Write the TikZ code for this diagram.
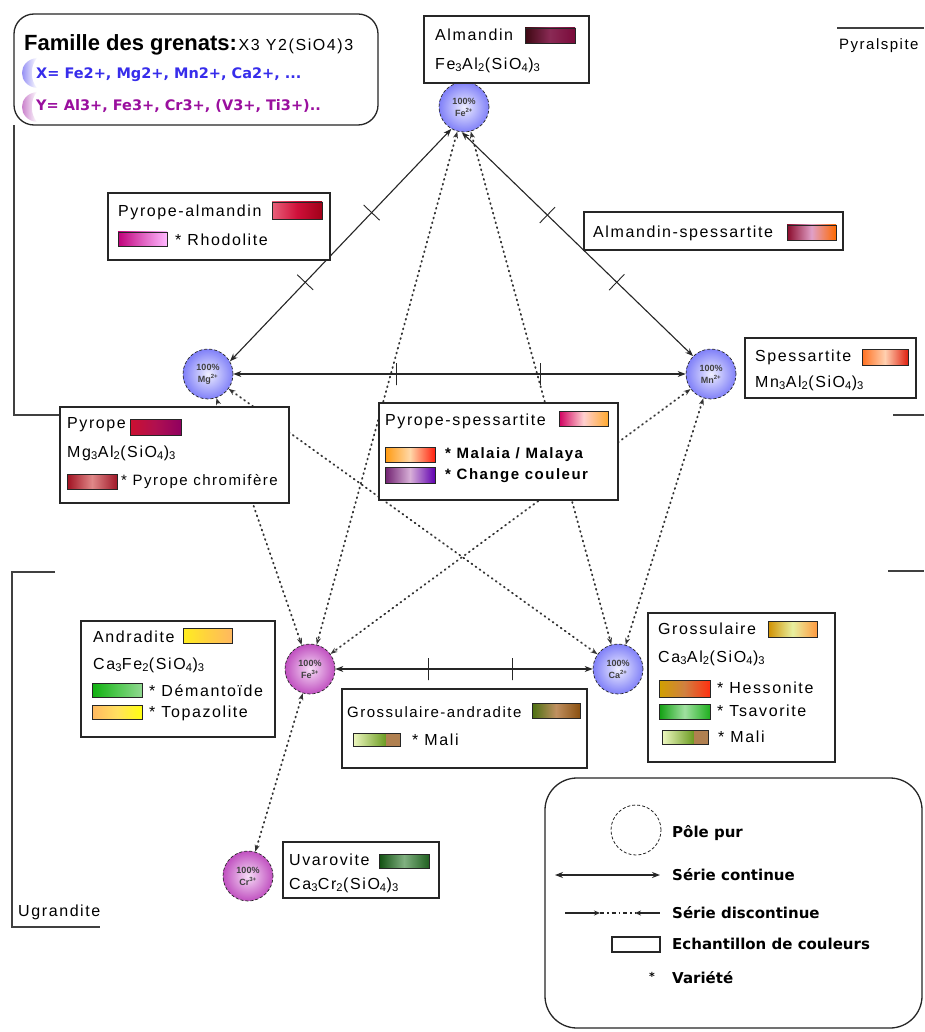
\documentclass[tikz,border=0pt]{standalone}
\usepackage{fontspec}
\setmainfont{Liberation Sans}
\newfontfamily\bxf[LetterSpace=10]{Liberation Sans}
\newfontfamily\vdf{DejaVu Sans}
\usetikzlibrary{arrows.meta}
\definecolor{xblue}{HTML}{372DEB}
\definecolor{ypurp}{HTML}{9A0F9E}
\definecolor{bluei}{HTML}{EEEEFF}
\definecolor{blueo}{HTML}{8080F8}
\definecolor{purpi}{HTML}{F6DCF6}
\definecolor{purpo}{HTML}{C050C0}
\definecolor{almL}{HTML}{3D0812}\definecolor{almM}{HTML}{8A2A55}\definecolor{almR}{HTML}{7A0A3A}
\definecolor{paL}{HTML}{E8607A}\definecolor{paM}{HTML}{D0103A}\definecolor{paR}{HTML}{A00018}
\definecolor{rhL}{HTML}{C0007A}\definecolor{rhM}{HTML}{E060C0}\definecolor{rhR}{HTML}{FFB8FF}
\definecolor{asL}{HTML}{8A0A2A}\definecolor{asM}{HTML}{E0A0C8}\definecolor{asR}{HTML}{FF6A00}
\definecolor{spL}{HTML}{FF7020}\definecolor{spM}{HTML}{FFD0B0}\definecolor{spR}{HTML}{E02010}
\definecolor{pyL}{HTML}{CC1030}\definecolor{pyM}{HTML}{B01050}\definecolor{pyR}{HTML}{900060}
\definecolor{pcL}{HTML}{A01020}\definecolor{pcM}{HTML}{E08888}\definecolor{pcR}{HTML}{A01828}
\definecolor{psL}{HTML}{D00060}\definecolor{psM}{HTML}{FFD0D0}\definecolor{psR}{HTML}{FFAA30}
\definecolor{maL}{HTML}{FF9A10}\definecolor{maM}{HTML}{FFD8A8}\definecolor{maR}{HTML}{FF2010}
\definecolor{ccL}{HTML}{702070}\definecolor{ccM}{HTML}{D8B0D8}\definecolor{ccR}{HTML}{6000B0}
\definecolor{anL}{HTML}{FFEE20}\definecolor{anM}{HTML}{FFD040}\definecolor{anR}{HTML}{FFB860}
\definecolor{deL}{HTML}{10B010}\definecolor{deM}{HTML}{50C850}\definecolor{deR}{HTML}{90D890}
\definecolor{toL}{HTML}{FFB860}\definecolor{toM}{HTML}{FFE060}\definecolor{toR}{HTML}{FFFF10}
\definecolor{gaL}{HTML}{4A7010}\definecolor{gaM}{HTML}{C09060}\definecolor{gaR}{HTML}{8A5010}
\definecolor{mlL}{HTML}{EEF8C0}\definecolor{mlR}{HTML}{6A9A20}\definecolor{mlB}{HTML}{B08050}
\definecolor{grL}{HTML}{D09000}\definecolor{grM}{HTML}{E8F0A0}\definecolor{grR}{HTML}{FF9A40}
\definecolor{heL}{HTML}{D0A000}\definecolor{heM}{HTML}{D08040}\definecolor{heR}{HTML}{FF3010}
\definecolor{tsL}{HTML}{10A010}\definecolor{tsM}{HTML}{A0E0A0}\definecolor{tsR}{HTML}{20B020}
\definecolor{uvL}{HTML}{105010}\definecolor{uvM}{HTML}{80B080}\definecolor{uvR}{HTML}{206020}
\newcommand\gsw[5]{\shade[left color=#3,right color=#5,middle color=#4] #1 rectangle #2; \draw[sw] #1 rectangle #2;}
% \malisw{x1}{y1}{xm}{x2}{y2}
\newcommand\malisw[5]{\shade[left color=mlL,right color=mlR] (#1,#2) rectangle (#3,#5); \fill[mlB] (#3,#2) rectangle (#4,#5); \draw[sw] (#1,#2) rectangle (#4,#5);}
\begin{document}
\begin{tikzpicture}[x=1pt,y=-1pt,
  pole/.style={circle, draw=black!85, densely dashed, line width=0.7pt, minimum size=50pt, inner sep=0pt, align=center, font=\fontsize{9}{12}\selectfont\bfseries, text=black!75},
  bpole/.style={pole, inner color=bluei, outer color=blueo},
  ppole/.style={pole, inner color=purpi, outer color=purpo},
  cont/.style={{Stealth[length=8pt,width=6pt]}-{Stealth[length=8pt,width=6pt]}, line width=1.1pt, draw=black!85},
  disc/.style={{Stealth[length=7pt,width=5pt]}-{Stealth[length=7pt,width=5pt]}, line width=1.8pt, draw=black!80, line cap=round, dash pattern=on 1pt off 4pt},
  tickm/.style={sloped, draw=black!85, line width=0.9pt, inner sep=0pt, minimum width=0pt, minimum height=22pt},
  ibox/.style={draw=black!85, fill=white, line width=1.3pt},
  sw/.style={draw=black!85, line width=0.9pt},
  brk/.style={draw=black!75, line width=1.3pt},
  t16/.style={anchor=west, inner sep=0pt, font=\bxf\fontsize{16}{18}\selectfont},
  t15/.style={anchor=west, inner sep=0pt, font=\bxf\fontsize{15}{17}\selectfont},
  t15b/.style={anchor=west, inner sep=0pt, font=\bxf\bfseries\fontsize{15}{17}\selectfont},
  lg/.style={anchor=west, inner sep=0pt, font=\vdf\bfseries\fontsize{15}{17}\selectfont}
]
\useasboundingbox (0,0) rectangle (924,1032);
\fill[white] (0,0) rectangle (924,1032);

% group brackets
\draw[brk] (14,125) -- (14,415) -- (70,415);
\draw[brk] (893,415) -- (924,415);
\draw[brk] (837,28) -- (924,28);
\node[t15, anchor=west] (pyral) at (839,46) {Pyralspite};
\draw[brk] (55,572) -- (12,572) -- (12,927) -- (100,927);
\draw[brk] (888,571) -- (924,571);
\node[t16] (ugr) at (18,912) {Ugrandite};

% pure poles
\node[bpole] (fe2) at (464,107) {100\%\\Fe\textsuperscript{2+}};
\node[bpole] (mg2) at (208,374) {100\%\\Mg\textsuperscript{2+}};
\node[bpole] (mn2) at (711,374) {100\%\\Mn\textsuperscript{2+}};
\node[bpole] (ca2) at (618,669) {100\%\\Ca\textsuperscript{2+}};
\node[ppole] (fe3) at (310,669) {100\%\\Fe\textsuperscript{3+}};
\node[ppole] (cr3) at (248,876) {100\%\\Cr\textsuperscript{3+}};

% discontinuous series
\draw[disc] (fe2) -- (fe3);
\draw[disc] (fe2) -- (ca2);
\draw[disc] (mg2) -- (ca2);
\draw[disc] (mg2) -- (fe3);
\draw[disc] (mn2) -- (fe3);
\draw[disc] (mn2) -- (ca2);
\draw[disc] (fe3) -- (cr3);

% continuous series
\draw[cont] (fe2.240) -- (mg2.30) node[tickm,pos=0.36] (tk1) {} node[tickm,pos=0.66] (tk2) {};
\draw[cont] (fe2.-95) -- (mn2.135) node[tickm,pos=0.37] (tk3) {} node[tickm,pos=0.67] (tk4) {};
\draw[cont] (mg2) -- (mn2) node[tickm,pos=0.36] (tk5) {} node[tickm,pos=0.68] (tk6) {};
\draw[cont] (fe3) -- (ca2) node[tickm,pos=0.36] (tk7) {} node[tickm,pos=0.69] (tk8) {};

% Famille box
\draw[draw=black!85, fill=white, line width=1.3pt, rounded corners=20pt] (14,14) rectangle (378,125);
\node[anchor=base west, inner sep=0pt] (fam) at (24,51) {{\bfseries\fontsize{22}{24}\selectfont Famille des grenats:}\,{\bxf\fontsize{16}{18}\selectfont X3 Y2(SiO4)3}};
\shade[left color=xblue!70, right color=white] (37,58) .. controls (17,60) and (17,86) .. (37,88) .. controls (30,80) and (30,66) .. (37,58);
\shade[left color=ypurp!70, right color=white] (37,92) .. controls (17,94) and (17,120) .. (37,122) .. controls (30,114) and (30,100) .. (37,92);
\node[anchor=base west, inner sep=0pt, text=xblue, font=\vdf\bfseries\fontsize{14.5}{16}\selectfont] (xline) at (36,79) {X= Fe2+, Mg2+, Mn2+, Ca2+, ...};
\node[anchor=base west, inner sep=0pt, text=ypurp, font=\vdf\bfseries\fontsize{14.5}{16}\selectfont] (yline) at (36,111) {Y= Al3+, Fe3+, Cr3+, (V3+, Ti3+)..};

% Almandin
\draw[ibox] (424,16) rectangle (589,83);
\node[t16] (almT) at (435,35) {Almandin};
\gsw{(525,28)}{(575,43)}{almL}{almM}{almR}
\node[t16] (almF) at (435,65) {Fe\textsubscript{3}Al\textsubscript{2}(SiO\textsubscript{4})\textsubscript{3}};

% Pyrope-almandin
\draw[ibox] (108,193) rectangle (330,260);
\node[t16] (paT) at (118,212) {Pyrope-almandin};
\gsw{(272,202)}{(322,219)}{paL}{paM}{paR}
\gsw{(118,232)}{(167,246)}{rhL}{rhM}{rhR}
\node[t16] (paV) at (175,240) {* Rhodolite};

% Almandin-spessartite
\draw[ibox] (584,212) rectangle (843,250);
\node[t16] (asT) at (593,233) {Almandin-spessartite};
\gsw{(787,225)}{(836,240)}{asL}{asM}{asR}

% Spessartite
\draw[ibox] (745,338) rectangle (916,398);
\node[t16] (spT) at (755,357) {Spessartite};
\gsw{(862,349)}{(908,365)}{spL}{spM}{spR}
\node[t16] (spF) at (755,383) {Mn\textsubscript{3}Al\textsubscript{2}(SiO\textsubscript{4})\textsubscript{3}};

% Pyrope
\draw[ibox] (60,407) rectangle (289,503);
\node[t16] (pyT) at (67,425) {Pyrope};
\gsw{(130,419)}{(181,435)}{pyL}{pyM}{pyR}
\node[t16] (pyF) at (67,453) {Mg\textsubscript{3}Al\textsubscript{2}(SiO\textsubscript{4})\textsubscript{3}};
\gsw{(67,474)}{(117,489)}{pcL}{pcM}{pcR}
\node[t15] (pyV) at (121,482) {* Pyrope chromifère};

% Pyrope-spessartite
\draw[ibox] (379,403) rectangle (618,500);
\node[t16] (psT) at (385,421) {Pyrope-spessartite};
\gsw{(559,411)}{(608,426)}{psL}{psM}{psR}
\gsw{(385,447)}{(435,462)}{maL}{maM}{maR}
\node[t15b] (psV1) at (445,455) {* Malaia / Malaya};
\gsw{(385,467)}{(435,483)}{ccL}{ccM}{ccR}
\node[t15b] (psV2) at (445,476) {* Change couleur};

% Andradite
\draw[ibox] (81,621) rectangle (275,737);
\node[t16] (anT) at (93,637) {Andradite};
\gsw{(183,628)}{(232,643)}{anL}{anM}{anR}
\node[t16] (anF) at (93,665) {Ca\textsubscript{3}Fe\textsubscript{2}(SiO\textsubscript{4})\textsubscript{3}};
\gsw{(92,683)}{(142,697)}{deL}{deM}{deR}
\node[t16] (anV1) at (149,691) {* Démantoïde};
\gsw{(92,705)}{(142,719)}{toL}{toM}{toR}
\node[t16] (anV2) at (149,713) {* Topazolite};

% Grossulaire-andradite
\draw[ibox] (342,689) rectangle (587,768);
\node[t15] (gaT) at (347,712) {Grossulaire-andradite};
\gsw{(532,703)}{(580,718)}{gaL}{gaM}{gaR}
\malisw{353}{733}{386}{400}{746}
\node[t16] (gaV) at (412,740) {* Mali};

% Grossulaire
\draw[ibox] (648,613) rectangle (835,762);
\node[t16] (grT) at (658,629) {Grossulaire};
\gsw{(768,621)}{(817,637)}{grL}{grM}{grR}
\node[t16] (grF) at (658,658) {Ca\textsubscript{3}Al\textsubscript{2}(SiO\textsubscript{4})\textsubscript{3}};
\gsw{(659,680)}{(710,697)}{heL}{heM}{heR}
\node[t16] (grV1) at (717,688) {* Hessonite};
\gsw{(659,704)}{(710,719)}{tsL}{tsM}{tsR}
\node[t16] (grV2) at (717,711) {* Tsavorite};
\malisw{662}{730}{694}{708}{744}
\node[t16] (grV3) at (718,737) {* Mali};

% Uvarovite
\draw[ibox] (283,842) rectangle (439,898);
\node[t16] (uvT) at (289,860) {Uvarovite};
\gsw{(379,854)}{(429,868)}{uvL}{uvM}{uvR}
\node[t16] (uvF) at (289,885) {Ca\textsubscript{3}Cr\textsubscript{2}(SiO\textsubscript{4})\textsubscript{3}};

% Legend
\draw[draw=black!85, line width=1.3pt, rounded corners=32pt] (545,778) rectangle (922,1028);
\node[circle, draw=black!85, densely dashed, line width=0.8pt, minimum size=50pt, inner sep=0pt] (lgpole) at (636,830) {};
\node[lg] (lgt1) at (672,833) {Pôle pur};
\coordinate (lc1) at (555,875);
\coordinate (lc2) at (660,875);
\draw[cont] (lc1) -- (lc2);
\node[lg] (lgt2) at (672,875) {Série continue};
\coordinate (ld1) at (565,913);
\coordinate (ld2) at (600,913);
\coordinate (ld3) at (635,913);
\coordinate (ld4) at (660,913);
\draw[line width=1.1pt, draw=black!85, -{Stealth[length=6pt,width=5pt]}] (ld1) -- (ld2);
\draw[line width=1.1pt, draw=black!85, dash pattern=on 4pt off 3pt on 1.5pt off 3pt] (ld2) -- (ld3);
\draw[line width=1.1pt, draw=black!85, {Stealth[length=6pt,width=5pt]}-] (ld3) -- (ld4);
\node[lg] (lgt3) at (672,913) {Série discontinue};
\draw[sw, line width=1.2pt] (612,937) rectangle (660,952);
\node[lg] (lgt4) at (672,944) {Echantillon de couleurs};
\node[lg, anchor=center, font=\vdf\bfseries\fontsize{11}{12}\selectfont] (lgst) at (652,976) {*};
\node[lg] (lgt5) at (672,978) {Variété};
\end{tikzpicture}
\end{document}
